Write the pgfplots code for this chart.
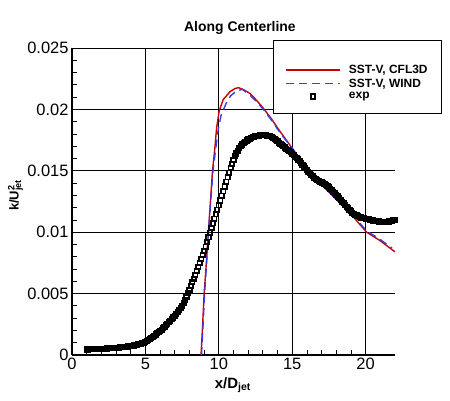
\documentclass[border=0pt]{standalone}
\usepackage{pgfplots}
\pgfplotsset{compat=1.18}
\usepackage{fontspec}
\setmainfont{Liberation Sans}
\definecolor{cfl}{RGB}{200,0,0}
\definecolor{wind}{RGB}{60,60,230}
\pgfplotstableread{
x y
1.0 .00045
1.1 .00045
1.2 .00046
1.3 .00046
1.4 .00047
1.5 .00047
1.6 .00048
1.7 .00048
1.8 .00049
1.9 .00049
2.0 .00050
2.1 .00051
2.2 .00051
2.3 .00052
2.4 .00053
2.5 .00054
2.6 .00055
2.7 .00056
2.8 .00057
2.9 .00057
3.0 .00058
3.1 .00059
3.2 .00060
3.3 .00062
3.4 .00063
3.5 .00064
3.6 .00066
3.7 .00067
3.8 .00069
3.9 .00070
4.0 .00072
4.1 .00075
4.2 .00077
4.3 .00080
4.4 .00083
4.5 .00086
4.6 .00090
4.7 .00093
4.8 .00097
4.9 .00101
5.0 .00105
5.1 .00113
5.2 .00121
5.3 .00130
5.4 .00140
5.5 .00150
5.6 .00158
5.7 .00167
5.8 .00176
5.9 .00185
6.0 .00195
6.1 .00207
6.2 .00219
6.3 .00231
6.4 .00243
6.5 .00255
6.6 .00267
6.7 .00280
6.8 .00292
6.9 .00305
7.0 .00318
7.1 .00333
7.2 .00349
7.3 .00365
7.4 .00382
7.5 .00400
7.6 .00424
7.7 .00450
7.8 .00476
7.9 .00503
8.0 .00530
8.1 .00560
8.2 .00591
8.3 .00622
8.4 .00653
8.5 .00685
8.6 .00717
8.7 .00749
8.8 .00781
8.9 .00813
9.0 .00845
9.1 .00882
9.2 .00920
9.3 .00958
9.4 .00996
9.5 .01035
9.6 .01072
9.7 .01109
9.8 .01146
9.9 .01183
10.0 .01220
10.1 .01258
10.2 .01296
10.3 .01334
10.4 .01372
10.5 .01410
10.6 .01448
10.7 .01485
10.8 .01522
10.9 .01557
11.0 .01590
11.1 .01617
11.2 .01641
11.3 .01662
11.4 .01682
11.5 .01700
11.6 .01714
11.7 .01726
11.8 .01737
11.9 .01747
12.0 .01755
12.1 .01761
12.2 .01767
12.3 .01772
12.4 .01776
12.5 .01780
12.6 .01783
12.7 .01786
12.8 .01788
12.9 .01789
13.0 .01790
13.1 .01790
13.2 .01788
13.3 .01786
13.4 .01783
13.5 .01780
13.6 .01773
13.7 .01765
13.8 .01757
13.9 .01749
14.0 .01740
14.1 .01730
14.2 .01720
14.3 .01710
14.4 .01700
14.5 .01690
14.6 .01680
14.7 .01670
14.8 .01660
14.9 .01650
15.0 .01640
15.1 .01628
15.2 .01616
15.3 .01604
15.4 .01592
15.5 .01580
15.6 .01565
15.7 .01550
15.8 .01535
15.9 .01520
16.0 .01505
16.1 .01492
16.2 .01479
16.3 .01467
16.4 .01456
16.5 .01445
16.6 .01436
16.7 .01427
16.8 .01419
16.9 .01412
17.0 .01405
17.1 .01397
17.2 .01389
17.3 .01381
17.4 .01373
17.5 .01365
17.6 .01354
17.7 .01342
17.8 .01330
17.9 .01318
18.0 .01305
18.1 .01291
18.2 .01277
18.3 .01263
18.4 .01249
18.5 .01235
18.6 .01221
18.7 .01208
18.8 .01195
18.9 .01182
19.0 .01170
19.1 .01160
19.2 .01151
19.3 .01143
19.4 .01136
19.5 .01130
19.6 .01125
19.7 .01120
19.8 .01116
19.9 .01113
20.0 .01110
20.1 .01107
20.2 .01104
20.3 .01101
20.4 .01098
20.5 .01095
20.6 .01093
20.7 .01091
20.8 .01089
20.9 .01087
21.0 .01085
21.1 .01084
21.2 .01084
21.3 .01084
21.4 .01084
21.5 .01085
21.6 .01087
21.7 .01090
21.8 .01093
21.9 .01096
22.0 .01100
}\exptable
\pgfplotstableread{
x y
8.79 0
8.90 .0025
9.00 .0050
9.15 .0075
9.29 .0100
9.43 .0125
9.57 .0150
9.72 .0167
9.85 .0185
10.03 .0199
10.30 .0208
10.76 .02144
11.10 .0217
11.35 .02177
11.70 .0216
12.12 .0213
12.60 .0207
13.03 .0201
13.60 .0192
14.17 .0182
15.08 .0167
15.53 .0159
16.00 .0153
16.90 .0140
17.80 .0129
18.90 .0116
20.07 .0100
21.00 .0093
22.00 .0084
}\cfltable
\pgfplotstableread{
x y
8.82 0
8.93 .0025
9.03 .0050
9.17 .0075
9.30 .0100
9.45 .0125
9.60 .0150
9.78 .0167
9.95 .0183
10.15 .0195
10.50 .0205
10.80 .0211
11.20 .0215
11.60 .02163
12.10 .0212
12.60 .0206
13.03 .0200
13.60 .0191
14.17 .0181
15.08 .0167
16.00 .0152
16.90 .0140
17.80 .0129
18.90 .0117
20.07 .0101
21.00 .0094
21.80 .0087
}\windtable
\begin{document}
\begin{tikzpicture}
\useasboundingbox (-72bp,-46bp) rectangle (378bp,355bp);
\begin{axis}[
  at={(0,0)}, anchor=south west,
  scale only axis, width=323bp, height=307bp,
  xmin=0, xmax=22, ymin=0, ymax=0.025,
  axis x line=bottom, axis y line=left,
  axis line style={-, line width=1.6bp},
  xtick={0,5,10,15,20}, minor x tick num=4,
  ytick={0,0.005,0.01,0.015,0.02,0.025}, minor y tick num=4,
  yticklabels={0,0.005,0.01,0.015,0.02,0.025},
  scaled y ticks=false,
  tick align=inside,
  major tick length=8bp, minor tick length=5bp,
  every tick/.style={black, line width=0.8bp},
  grid=major, major grid style={black, line width=0.8bp},
  ticklabel style={font=\fontsize{16.5}{18}\selectfont},
  /pgf/number format/assume math mode=true,
  every axis title shift=0pt,
  title={Along Centerline},
  title style={font=\fontsize{14}{16}\selectfont\bfseries, at={(axis description cs:0.52,1)}, anchor=base, yshift=16.5bp},
  xlabel={x/D\textsubscript{jet}},
  xlabel style={font=\fontsize{15}{17}\selectfont\bfseries, at={(axis description cs:0.498,0)}, anchor=base, yshift=-33bp},
  ylabel={k/U\rlap{\textsuperscript{2}}\textsubscript{jet}},
  ylabel style={font=\fontsize{13}{15}\selectfont\bfseries, at={(axis description cs:-0.175,0.52)}, anchor=center},
  legend style={at={(axis description cs:0.622,1.026)}, anchor=north west,
    draw=black, line width=0.8bp, fill=white,
    font=\fontsize{12}{13}\selectfont\bfseries,
    inner xsep=12bp, inner ysep=11bp, row sep=0bp,
    cells={anchor=west}},
  legend cell align=left,
  legend image code/.code={\draw[#1, line width=1.4bp] (0bp,0bp) -- (54bp,0bp); \path[draw=none] (0bp,0bp) -- (61bp,0bp);},
]
\addplot[forget plot, only marks, mark=square, mark size=2.2bp,
  mark options={draw=black, fill=white, line width=1.7bp}] table[x=x,y=y] {\exptable};
\addlegendimage{empty legend}
\addlegendentry{\rule{0pt}{6bp}}
\addplot[cfl, line width=1.4bp] table[x=x,y=y] {\cfltable};
\addlegendentry{SST-V, CFL3D}
\addplot[wind, line width=1.4bp, dash pattern=on 8bp off 5bp] table[x=x,y=y] {\windtable};
\addlegendentry{SST-V, WIND}
\addlegendimage{legend image code/.code={\draw[black, fill=white, line width=1.7bp] (24.8bp,-2.2bp) rectangle (29.2bp,2.2bp); \path[draw=none] (0bp,0bp) -- (61bp,0bp);}}
\addlegendentry{exp}
\end{axis}
\end{tikzpicture}
\end{document}
